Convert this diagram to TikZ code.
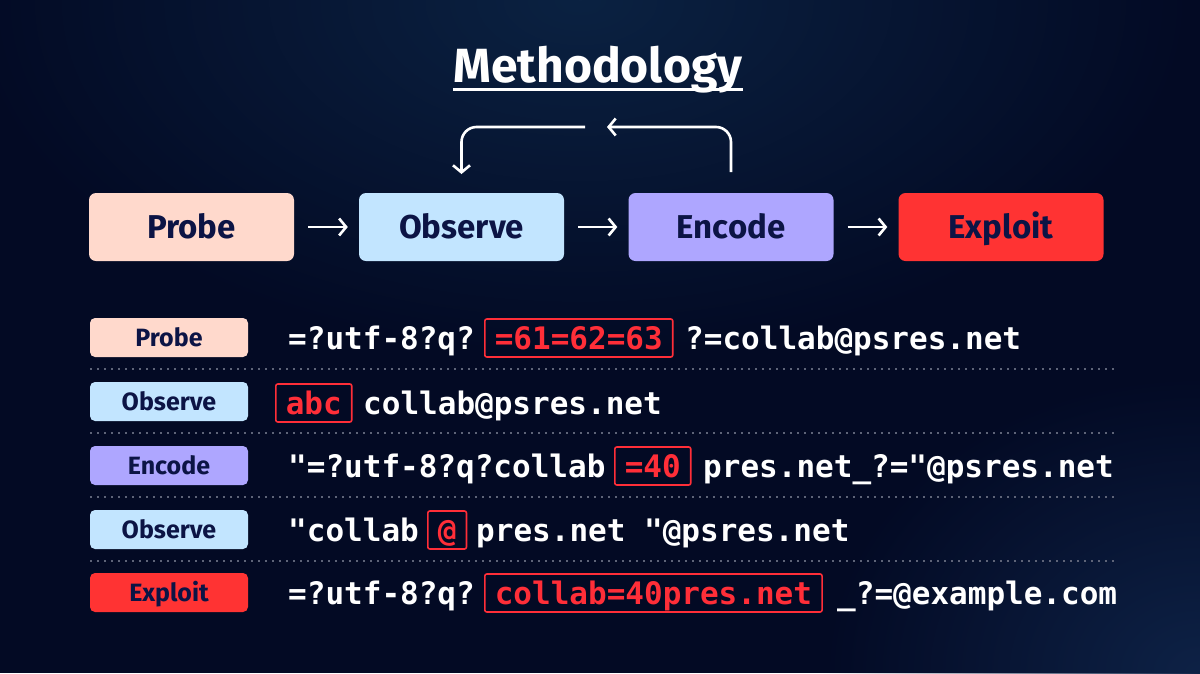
\documentclass[tikz,border=0pt]{standalone}
\usepackage{fontspec}
\setmainfont{Fira Sans}[BoldFont={Fira Sans Bold}]
\newfontfamily\codefont{DejaVu Sans Mono}
\usetikzlibrary{arrows.meta,fadings,calc}
\tikzfading[name=glowfade, inner color=transparent!0, outer color=transparent!100]
\definecolor{bgbase}{HTML}{030A24}
\definecolor{glowA}{HTML}{0B2242}
\definecolor{glowB}{HTML}{0E2246}
\definecolor{peach}{HTML}{FFD9CC}
\definecolor{sky}{HTML}{C2E5FF}
\definecolor{lav}{HTML}{AEA6FF}
\definecolor{hot}{HTML}{FF3333}
\definecolor{navy}{HTML}{0C1445}
\definecolor{hl}{HTML}{FF2E38}
\definecolor{dotc}{HTML}{5E6478}
\begin{document}
\begin{tikzpicture}[x=1pt,y=-1pt,
  stage/.style={rounded corners=7pt, minimum width=205pt, minimum height=68pt, inner sep=0pt,
    font=\bfseries\fontsize{33}{33}\selectfont, text=navy, text height=23pt, text depth=0pt},
  tag/.style={rounded corners=5pt, minimum width=158pt, minimum height=39pt, inner sep=0pt,
    font=\bfseries\fontsize{25}{25}\selectfont, text=navy, text height=18pt, text depth=0pt},
  code/.style={inner sep=0pt, text=white, font=\codefont\bfseries\fontsize{31}{31}\selectfont, anchor=base west},
  hlbox/.style={draw=hl, line width=1.6pt, rounded corners=2pt, text=hl, inner xsep=10pt,
    minimum height=38pt, inner ysep=0pt, text height=22pt, text depth=0pt,
    font=\codefont\bfseries\fontsize{31}{31}\selectfont, anchor=west},
  arr/.style={white, line width=2.6pt, -{Straight Barb[length=7pt,width=17pt,line width=2.6pt]}},
  sep/.style={dotc, line width=1.6pt, dash pattern=on 1.6pt off 5.4pt}
]
\useasboundingbox (0,0) rectangle (1200,673);
% background
\fill[bgbase] (0,0) rectangle (1200,673);
\begin{scope}
\clip (0,0) rectangle (1200,673);
\fill[glowA, path fading=glowfade] (580,0) ellipse (620 and 360);
\fill[glowB, path fading=glowfade] (1200,673) ellipse (380 and 300);
\end{scope}

% title
\node[text=white, font=\bfseries\fontsize{48}{48}\selectfont, inner sep=0pt, anchor=base] (title) at (598,82) {Methodology};
\draw[white, line width=3pt] ($(title.base west)+(0,7)$) -- ($(title.base east)+(0,7)$);

% stages
\node[stage, fill=peach] (probe) at (191.5,227) {Probe};
\node[stage, fill=sky] (observe) at (461.5,227) {Observe};
\node[stage, fill=lav] (encode) at (731,227) {Encode};
\node[stage, fill=hot] (exploit) at (1001,227) {Exploit};
\draw[arr, shorten <=14pt, shorten >=11pt] (probe) -- (observe);
\draw[arr, shorten <=14pt, shorten >=11pt] (observe) -- (encode);
\draw[arr, shorten <=14pt, shorten >=11pt] (encode) -- (exploit);

% loop
\coordinate (encTop) at (731,172);
\coordinate (loopR) at (607,127);
\coordinate (loopL) at (585,127);
\coordinate (obsTop) at (461.5,174);
\draw[arr, rounded corners=15pt] (encTop) |- (loopR);
\draw[arr, rounded corners=15pt] (loopL) -| (obsTop);

% tags
\node[tag, fill=peach] (t1) at (169,337.5) {Probe};
\node[tag, fill=sky] (t2) at (169,401.5) {Observe};
\node[tag, fill=lav] (t3) at (169,465.5) {Encode};
\node[tag, fill=sky] (t4) at (169,529.5) {Observe};
\node[tag, fill=hot] (t5) at (169,592.5) {Exploit};

% separators
\coordinate (s1a) at (90,369); \coordinate (s1b) at (1116,369);
\coordinate (s2a) at (90,433); \coordinate (s2b) at (1116,433);
\coordinate (s3a) at (90,497); \coordinate (s3b) at (1116,497);
\coordinate (s4a) at (90,561); \coordinate (s4b) at (1116,561);
\draw[sep] (s1a) -- (s1b);
\draw[sep] (s2a) -- (s2b);
\draw[sep] (s3a) -- (s3b);
\draw[sep] (s4a) -- (s4b);

% row 1
\node[code] (r1a) at (288,349) {=?utf-8?q?};
\node[hlbox] (r1b) at (484,338) {=61=62=63};
\node[code] (r1c) at (685,349) {?=collab@psres.net};
% row 2
\node[hlbox] (r2a) at (275,403) {abc};
\node[code] (r2b) at (363,414) {collab@psres.net};
% row 3
\node[code] (r3a) at (288,477) {"=?utf-8?q?collab};
\node[hlbox] (r3b) at (614,466) {=40};
\node[code] (r3c) at (703,477) {pres.net\_?="@psres.net};
% row 4
\node[code] (r4a) at (288,541) {"collab};
\node[hlbox] (r4b) at (427,530) {@};
\node[code] (r4c) at (476,541) {pres.net "@psres.net};
% row 5
\node[code] (r5a) at (288,604) {=?utf-8?q?};
\node[hlbox] (r5b) at (484,593) {collab=40pres.net};
\node[code] (r5c) at (837,604) {\_?=@example.com};
\end{tikzpicture}
\end{document}
